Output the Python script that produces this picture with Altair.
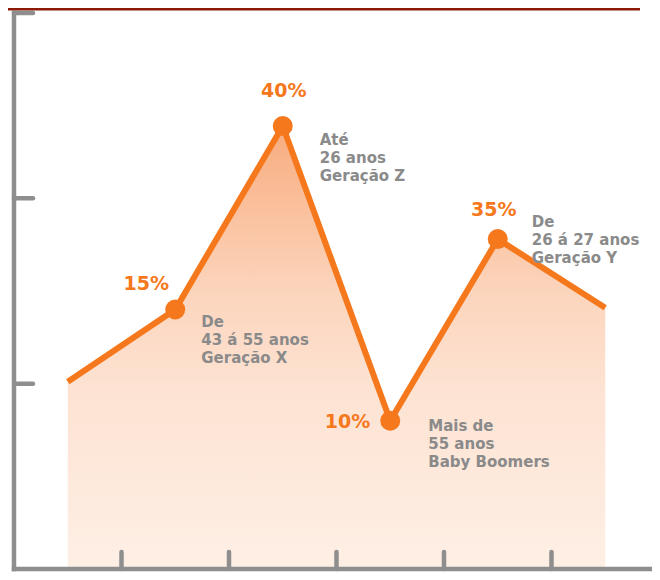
import altair as alt
import pandas as pd

# ---- data ----
x_pos = [0.5, 1.5, 2.5, 3.5, 4.5, 5.5]
levels = [1.01, 1.40, 2.39, 0.80, 1.78, 1.41]

point_x = [1.5, 2.5, 3.5, 4.5]
point_levels = [1.40, 2.39, 0.80, 1.78]
pct_labels = ["15%", "40%", "10%", "35%"]
desc_labels = [
    "De\n43 á 55 anos\nGeração X",
    "Até\n26 anos\nGeração Z",
    "Mais de\n55 anos\nBaby Boomers",
    "De\n26 á 27 anos\nGeração Y",
]

x_ticks = [1, 2, 3, 4, 5]
y_ticks = [1, 2, 3]
x_domain = [0, 5.935]
y_domain = [0, 3]

# ---- styles ----
ORANGE = "#F6781C"
GREY = "#8E8E8E"
TXT_GREY = "#8A8A8A"
FONT = "DejaVu Sans"

line_df = pd.DataFrame({"x": x_pos, "y": levels})
pts_df = pd.DataFrame({"x": point_x, "y": point_levels, "pct": pct_labels, "desc": desc_labels})

X = alt.X("x:Q", scale=alt.Scale(domain=x_domain, nice=False, zero=False), axis=None)
Y = alt.Y("y:Q", scale=alt.Scale(domain=y_domain, nice=False, zero=False), axis=None)

gradient = alt.Gradient(
    gradient="linear",
    stops=[
        alt.GradientStop(color="#F8AC7E", offset=0),
        alt.GradientStop(color="#FCD5BD", offset=0.38),
        alt.GradientStop(color="#FDE3D3", offset=0.6),
        alt.GradientStop(color="#FEEFE5", offset=1),
    ],
    x1=1, x2=1, y1=0, y2=1,
)

area = alt.Chart(line_df).mark_area(color=gradient).encode(x=X, y=Y)
line = alt.Chart(line_df).mark_line(color=ORANGE, strokeWidth=6).encode(x=X, y=Y)
points = alt.Chart(pts_df).mark_circle(color=ORANGE, size=400, opacity=1).encode(x=X, y=Y)

pct_offsets = [(-29, -26, "center"), (1, -35, "center"), (-20, 1, "right"), (-4, -29, "center")]
desc_offsets = [(26, 12), (37, 14), (38, 5), (34, -17)]

text_layers = []
for i in range(len(pct_labels)):
    sub = pts_df.iloc[[i]]
    dx, dy, al = pct_offsets[i]
    text_layers.append(
        alt.Chart(sub).mark_text(
            font=FONT, fontSize=19, fontWeight="bold", color=ORANGE,
            align=al, baseline="middle", dx=dx, dy=dy,
        ).encode(x=X, y=Y, text="pct:N")
    )
    ddx, ddy = desc_offsets[i]
    text_layers.append(
        alt.Chart(sub).mark_text(
            font=FONT, fontSize=15, fontWeight="bold", color=TXT_GREY,
            align="left", baseline="middle", dx=ddx, dy=ddy,
            lineBreak="\n", lineHeight=18,
        ).encode(x=X, y=Y, text="desc:N")
    )

# ---- hand-drawn axes ----
left_axis = alt.Chart(pd.DataFrame({"x": [x_domain[0]], "y": [y_domain[0]], "y2": [y_domain[1]]})).mark_rule(
    color=GREY, strokeWidth=4.5, strokeCap="square"
).encode(x=X, y=Y, y2="y2:Q")

bottom_axis = alt.Chart(pd.DataFrame({"x": [x_domain[0]], "x2": [x_domain[1]], "y": [y_domain[0]]})).mark_rule(
    color=GREY, strokeWidth=4.5, strokeCap="square"
).encode(x=X, x2="x2:Q", y=Y)

left_ticks = alt.Chart(pd.DataFrame({"x": [x_domain[0]] * len(y_ticks), "y": y_ticks})).mark_rule(
    color=GREY, strokeWidth=4.5, x2Offset=19, strokeCap="round"
).encode(x=X, x2="x:Q", y=Y)

bottom_ticks = alt.Chart(pd.DataFrame({"x": x_ticks, "y": [y_domain[0]] * len(x_ticks)})).mark_rule(
    color=GREY, strokeWidth=4.5, y2Offset=-17, strokeCap="round"
).encode(x=X, y=Y, y2="y:Q")

top_bar = alt.Chart(pd.DataFrame({"k": [0]})).mark_rule(color="#8B1A0A", strokeWidth=2.5).encode(
    x=alt.value(-6), x2=alt.value(626), y=alt.value(-3.75)
)

chart = alt.layer(
    area, line, points, *text_layers,
    left_axis, bottom_axis, left_ticks, bottom_ticks, top_bar,
).properties(
    width=638, height=556,
    autosize=alt.AutoSizeParams(type="none"),
    padding={"left": 6, "top": 5, "right": 0, "bottom": 3},
).configure_view(stroke=None)

chart.save("out.html", embed_options={"renderer": "svg", "actions": False})
